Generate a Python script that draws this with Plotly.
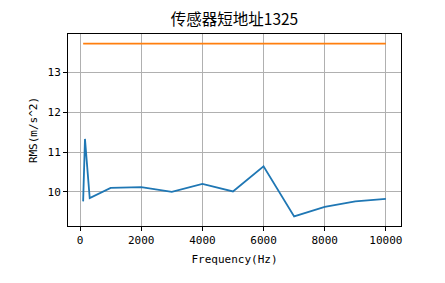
import plotly.graph_objects as go

freqs = [100, 160, 315, 1000, 2000, 3000, 4000, 5000, 6000, 7000, 8000, 9000, 10000]
rms = [9.76, 11.33, 9.84, 10.10, 10.12, 10.00, 10.20, 10.01, 10.64, 9.38, 9.62, 9.76, 9.82]
limit_x = [100, 10000]
limit_y = [13.73, 13.73]

x_ticks = [0, 2000, 4000, 6000, 8000, 10000]
x_ticktext = ["0", "2000", "4000", "6000", "8000", "10000"]
y_ticks = [10, 11, 12, 13]

title = "传感器短地址1325"
xlabel = "Frequency(Hz)"
ylabel = "RMS(m/s^2)"

cjk = "Noto Sans CJK SC"
mono = "DejaVu Sans Mono"

fig = go.Figure()
fig.add_trace(go.Scatter(x=freqs, y=rms, mode="lines",
                         line=dict(color="#1f77b4", width=1.8)))
fig.add_trace(go.Scatter(x=limit_x, y=limit_y, mode="lines",
                         line=dict(color="#ff7f0e", width=1.8)))

axis_common = dict(showline=True, linecolor="black", linewidth=1, mirror=True,
                   ticks="outside", ticklen=4, tickcolor="black",
                   showgrid=True, gridcolor="#b0b0b0", gridwidth=1,
                   zeroline=False, tickfont=dict(family=mono, size=11, color="black"))

fig.update_layout(
    width=445, height=283,
    margin=dict(l=68, r=44, t=34, b=57),
    paper_bgcolor="white", plot_bgcolor="white",
    showlegend=False,
    title=dict(text=title, x=(68 + 401) / 2 / 445, xanchor="center",
               y=1 - 20 / 283, yanchor="middle",
               font=dict(family=cjk, size=15.5, color="black")),
    xaxis=dict(range=[-395, 10495], tickvals=x_ticks, ticktext=x_ticktext,
               title=dict(text=xlabel, font=dict(family=mono, size=11, color="black"), standoff=9),
               **axis_common),
    yaxis=dict(range=[9.14, 13.97], tickvals=y_ticks,
               title=dict(text=ylabel, font=dict(family=mono, size=11, color="black"), standoff=7),
               **axis_common),
)

fig.write_html("out.html")
